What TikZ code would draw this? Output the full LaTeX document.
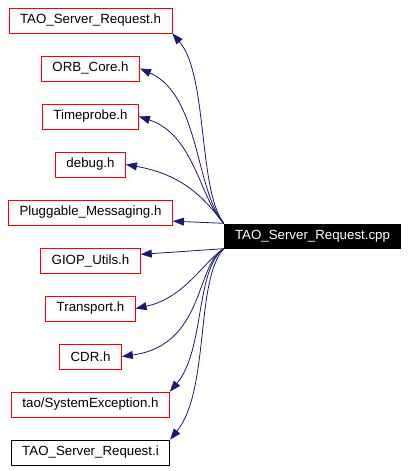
\documentclass[tikz,border=0pt]{standalone}
\usepackage{fontspec}
\setmainfont{Liberation Sans}
\usetikzlibrary{shapes,arrows.meta,positioning}
\definecolor{edgeblue}{RGB}{25,25,112}

\begin{document}
\begin{tikzpicture}[x=1pt,y=-1pt]
        \tikzstyle{every node} = [font=\fontsize{13.3}{16}\selectfont, minimum height=25pt, inner xsep=11pt, inner ysep=0pt, node distance=48pt]
        \tikzstyle{file} = [draw=red, line width=0.8pt]
        \tikzstyle{plainfile} = [draw=black, line width=0.8pt]
        \tikzstyle{dep} = [draw=edgeblue, line width=0.8pt, -{Triangle[length=11pt,width=8pt]}]
        \useasboundingbox (0,0) rectangle (410,471);

        \node[file](trh) at (90.5,20.5){TAO\_Server\_Request.h};
        \node[file, below of=trh](orb){ORB\_Core.h};
        \node[file, below of=orb](tp){Timeprobe.h};
        \node[file, below of=tp](dbg){debug.h};
        \node[file, below of=dbg](plug){Pluggable\_Messaging.h};
        \node[file, below of=plug](giop){GIOP\_Utils.h};
        \node[file, below of=giop](tr){Transport.h};
        \node[file, below of=tr](cdr){CDR.h};
        \node[file, below of=cdr](sysexc){tao/SystemException.h};
        \node[plainfile, below of=sysexc](tsri){TAO\_Server\_Request.i};
        \node[fill=black, text=white](cpp) at (312.5,236){TAO\_Server\_Request.cpp};

        \draw[dep] (cpp.north west) .. controls (198,190) and (208,75) .. (trh.south east);
        \draw[dep] (cpp.north west) .. controls (195,190) and (200,95) .. (orb.east);
        \draw[dep] (cpp.north west) .. controls (200,200) and (195,135) .. (tp.east);
        \draw[dep] (cpp.north west) .. controls (205,200) and (185,175) .. (dbg.east);
        \draw[dep] (cpp.north west) -- (plug.-6.6);
        \draw[dep] (cpp.south west) -- (giop.7);
        \draw[dep] (cpp.south west) .. controls (205,260) and (185,298) .. (tr.east);
        \draw[dep] (cpp.south west) .. controls (195,265) and (205,345) .. (cdr.east);
        \draw[dep] (cpp.south west) .. controls (195,270) and (205,350) .. (sysexc.north east);
        \draw[dep] (cpp.south west) .. controls (195,280) and (210,390) .. (tsri.north east);
\end{tikzpicture}
\end{document}
